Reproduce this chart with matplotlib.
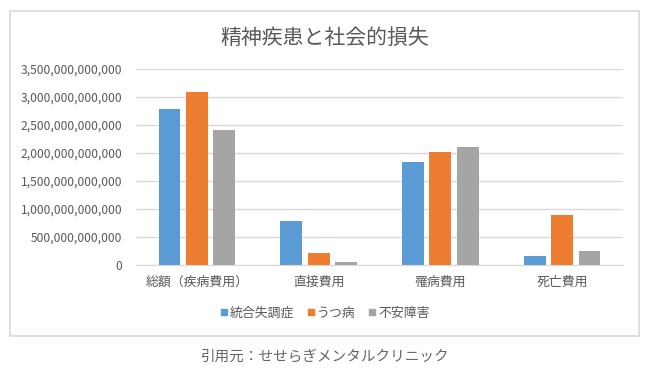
import matplotlib
matplotlib.use("Agg")
import matplotlib.pyplot as plt
from matplotlib.lines import Line2D
from matplotlib.patches import Rectangle
from matplotlib.ticker import FuncFormatter
import numpy as np

plt.rcParams["font.family"] = ["Noto Sans CJK JP", "DejaVu Sans"]

# ============================================================
# データ（単位：円）
# ============================================================
categories = ["総額（疾病費用）", "直接費用", "罹病費用", "死亡費用"]
series_names = ["統合失調症", "うつ病", "不安障害"]
schizophrenia = [2.78e12, 0.775e12, 1.84e12, 0.155e12]
depression = [3.09e12, 0.21e12, 2.02e12, 0.88e12]
anxiety = [2.40e12, 0.05e12, 2.10e12, 0.235e12]
y_ticks = np.arange(0, 3.5e12 + 1, 0.5e12)

title = "精神疾患と社会的損失"
caption = "引用元：せせらぎメンタルクリニック"

colors = ["#5B9BD5", "#ED7D31", "#A5A5A5"]
text_color = "#595959"
grid_color = "#D9D9D9"

# ============================================================
# 描画
# ============================================================
fig = plt.figure(figsize=(6.5, 3.77), dpi=100)
fig.patch.set_facecolor("white")

# 外枠
fig.patches.append(
    Rectangle((10 / 650, 1 - 335.5 / 377), 629 / 650, 325 / 377,
              transform=fig.transFigure, fill=False,
              edgecolor="#D9D9D9", linewidth=1.2)
)

ax = fig.add_axes([136 / 650, 1 - 264.5 / 377, 487 / 650, 195.5 / 377])

x = np.arange(len(categories))
width = 0.18
step = 0.225
for i, (vals, name) in enumerate(zip([schizophrenia, depression, anxiety], series_names)):
    ax.bar(x + (i - 1) * step, vals, width, color=colors[i], label=name, zorder=3)

ax.set_xlim(-0.5, len(categories) - 0.5)
ax.set_ylim(0, 3.5e12)
ax.set_yticks(y_ticks)
ax.yaxis.set_major_formatter(FuncFormatter(lambda v, p: f"{int(round(v)):,}"))
ax.set_xticks(x)
ax.set_xticklabels(categories)

ax.grid(axis="y", color=grid_color, linewidth=1, zorder=0)
ax.tick_params(axis="both", length=0, colors=text_color)
ax.tick_params(axis="y", labelsize=8.7, pad=10)
ax.tick_params(axis="x", labelsize=9.3, pad=8)
for s in ["top", "right", "left"]:
    ax.spines[s].set_visible(False)
ax.spines["bottom"].set_color(grid_color)
ax.spines["bottom"].set_zorder(4)

fig.text(0.5, 1 - 38 / 377, title, ha="center", va="center",
         fontsize=15, color=text_color)

handles = [
    Line2D([0], [0], marker="s", linestyle="none", markersize=5,
           markerfacecolor=c, markeredgecolor=c)
    for c in colors
]
fig.legend(handles, series_names, loc="center", ncol=3,
           bbox_to_anchor=(0.5, 1 - 313 / 377), frameon=False,
           fontsize=9.3, labelcolor=text_color, handlelength=0.6,
           handletextpad=0.15, columnspacing=1.0)

fig.text(0.5, 1 - 357 / 377, caption, ha="center", va="center",
         fontsize=10.5, color="#666666")

fig.savefig("out.png", dpi=100)
plt.close(fig)
